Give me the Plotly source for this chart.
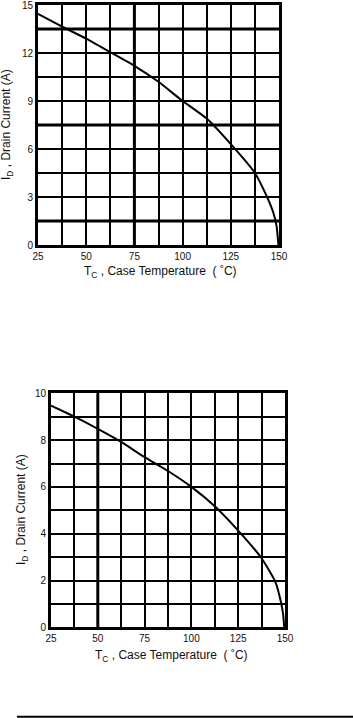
import plotly.graph_objects as go

# ---- data ----
temp1 = [25, 37.5, 50, 62.5, 75, 87.5, 100, 112.5, 125, 137.5, 143.6, 147.1, 148.8, 149.3, 149.7]
id1 = [14.44, 13.65, 12.9, 12.05, 11.2, 10.2, 9.0, 7.9, 6.3, 4.5, 3.05, 2.0, 1.15, 0.55, 0]

temp2 = [25, 37.5, 50, 62.5, 75, 87.5, 100, 112.5, 125, 137.5, 144.8, 147.8, 149.0, 149.6]
id2 = [9.47, 9.0, 8.48, 7.92, 7.27, 6.68, 6.0, 5.17, 4.13, 2.95, 1.95, 1.09, 0.55, 0]

x_ticks = [25, 50, 75, 100, 125, 150]
y1_ticks = [0, 3, 6, 9, 12, 15]
y2_ticks = [0, 2, 4, 6, 8, 10]

thick_x1 = [75]
thick_y1 = [13.5, 7.5, 1.5]
thick_x2 = [50]

W, H = 353, 718
FONT = "Liberation Sans, Arial, sans-serif"

fig = go.Figure()
fig.add_trace(go.Scatter(x=temp1, y=id1, mode="lines", line=dict(color="black", width=2, shape="spline", smoothing=0.5),
                         xaxis="x", yaxis="y", showlegend=False))
fig.add_trace(go.Scatter(x=temp2, y=id2, mode="lines", line=dict(color="black", width=2, shape="spline", smoothing=0.5),
                         xaxis="x2", yaxis="y2", showlegend=False))

def px_dom(a, b, total):
    return [a / total, b / total]

def py_dom(top, bottom):
    return [1 - bottom / H, 1 - top / H]

common_x = dict(range=[25, 150], tickvals=x_ticks, showgrid=True, gridcolor="black", gridwidth=1.5,
                minor=dict(dtick=12.5, tick0=25, showgrid=True, gridcolor="black", gridwidth=1.5),
                showline=True, linecolor="black", linewidth=3, mirror=True, zeroline=False, automargin=False,
                ticks="", ticklabeloverflow="allow",
                tickfont=dict(family=FONT, size=10, color="#111"), fixedrange=True)
common_y = dict(showgrid=True, gridcolor="black", gridwidth=1.5, automargin=False,
                showline=True, linecolor="black", linewidth=3, mirror=True, zeroline=False,
                ticks="", ticklabeloverflow="allow",
                tickfont=dict(family=FONT, size=10, color="#111"), fixedrange=True)

fig.update_layout(
    width=W, height=H, margin=dict(l=0, r=0, t=0, b=0, autoexpand=False),
    paper_bgcolor="white", plot_bgcolor="white",
    xaxis=dict(domain=px_dom(38, 279, W), anchor="y", **common_x),
    yaxis=dict(domain=py_dom(5, 245), anchor="x", range=[0, 15], tickvals=y1_ticks,
               minor=dict(dtick=1.5, tick0=0, showgrid=True, gridcolor="black", gridwidth=1.5), **common_y),
    xaxis2=dict(domain=px_dom(51, 285, W), anchor="y2", **common_x),
    yaxis2=dict(domain=py_dom(393.3, 627.3), anchor="x2", range=[0, 10], tickvals=y2_ticks,
                minor=dict(dtick=1, tick0=0, showgrid=True, gridcolor="black", gridwidth=1.5), **common_y),
)

shapes = []
for v in thick_x1:
    shapes.append(dict(type="line", xref="x", yref="y domain", x0=v, x1=v, y0=0, y1=1,
                       line=dict(color="black", width=3), layer="below"))
for v in thick_y1:
    shapes.append(dict(type="line", xref="x domain", yref="y", x0=0, x1=1, y0=v, y1=v,
                       line=dict(color="black", width=3), layer="below"))
for v in thick_x2:
    shapes.append(dict(type="line", xref="x2", yref="y2 domain", x0=v, x1=v, y0=0, y1=1,
                       line=dict(color="black", width=3), layer="below"))
# rule at the bottom of the page
shapes.append(dict(type="line", xref="paper", yref="paper", x0=17 / W, x1=1, y0=1 - 716.7 / H, y1=1 - 716.7 / H,
                   line=dict(color="black", width=2)))
fig.update_layout(shapes=shapes)

ytitle = "I<sub>D</sub> , Drain Current (A)"
xtitle = "T<sub>C</sub> , Case Temperature  ( ˚C)"
TF = dict(family=FONT, size=12, color="#111")
ann = [
    dict(text=ytitle, xref="paper", yref="paper", x=7 / W, y=1 - 125 / H, textangle=-90,
         showarrow=False, xanchor="center", yanchor="middle", font=TF),
    dict(text=xtitle, xref="paper", yref="paper", x=160 / W, y=1 - 271.7 / H,
         showarrow=False, xanchor="center", yanchor="middle", font=TF),
    dict(text=ytitle, xref="paper", yref="paper", x=22 / W, y=1 - 510 / H, textangle=-90,
         showarrow=False, xanchor="center", yanchor="middle", font=TF),
    dict(text=xtitle, xref="paper", yref="paper", x=171 / W, y=1 - 656 / H,
         showarrow=False, xanchor="center", yanchor="middle", font=TF),
]
fig.update_layout(annotations=ann)

fig.write_html("out.html")
